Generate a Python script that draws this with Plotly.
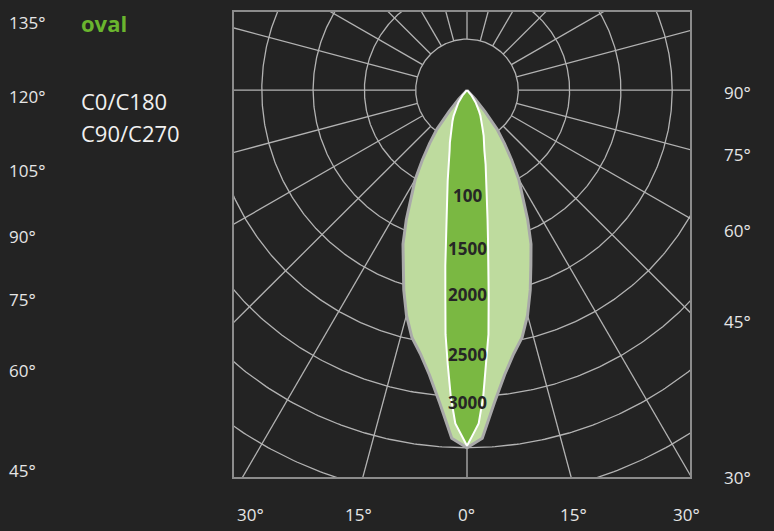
import numpy as np
import plotly.graph_objects as go

# ---------------- data ----------------
# C0/C180 plane (light green), angle from nadir (deg) and intensity (cd)
angles_c0 = [0, 2.5, 5, 7.5, 10, 12.5, 15, 17.5, 20, 22.5, 25, 27.5, 30, 32.5, 35, 37.5, 40, 42.5, 45]
intensity_c0 = [3500, 3410, 3070, 2810, 2620, 2480, 2280, 2050, 1820, 1630, 1400, 1180, 1010, 810, 635, 480, 270, 117, 0]

# C90/C270 plane (dark green)
angles_c90 = [0, 1, 2, 3, 4, 5, 6, 7, 8, 9, 10, 12, 14, 16, 18, 20, 22.5, 25, 27.5, 30, 35, 40, 45]
intensity_c90 = [3480, 3370, 3265, 3010, 2690, 2400, 2020, 1735, 1470, 1280, 1120, 905, 750, 615, 540, 475, 390, 335, 283, 230, 146, 70, 0]

grid_radii = [500, 1000, 1500, 2000, 2500, 3000, 3500, 4000, 4500, 5000]
spoke_angles = list(range(0, 360, 15))

ring_labels = ["100", "1500", "2000", "2500", "3000"]
ring_label_r = [1030, 1550, 2000, 2590, 3060]

left_tick_labels = ["135°", "120°", "105°", "90°", "75°", "60°", "45°"]
right_tick_labels = ["90°", "75°", "60°", "45°", "30°"]
bottom_tick_labels = ["30°", "15°", "0°", "15°", "30°"]

title_text = "oval"
legend_texts = ["C0/C180", "C90/C270"]

# ---------------- layout constants ----------------
W, H = 774, 531
BOX_L, BOX_R, BOX_T, BOX_B = 234, 690, 10, 477
CX, CY = 467, 88.5
CD_PER_PX = 500 / 51.3
BG = "#232323"
GRID = "#b3b3b3"
FONT = "Open Sans, Noto Sans, DejaVu Sans, sans-serif"

def px_x(p):
    return (p - BOX_L) / (BOX_R - BOX_L)

def px_y(p):
    return (BOX_B - p) / (BOX_B - BOX_T)

def lobe(angles, vals):
    a = np.radians(np.array(angles, dtype=float))
    v = np.array(vals, dtype=float)
    th = np.concatenate([-a[::-1], a[1:]])
    r = np.concatenate([v[::-1], v[1:]])
    return r * np.sin(th), -r * np.cos(th)

fig = go.Figure()

# grid circles
t = np.linspace(0, 2 * np.pi, 721)
for rr in grid_radii:
    fig.add_trace(go.Scatter(x=rr * np.sin(t), y=rr * np.cos(t), mode="lines",
                             line=dict(color=GRID, width=1.3), hoverinfo="skip", showlegend=False))
# spokes
for ang in spoke_angles:
    a = np.radians(ang)
    r0, r1 = grid_radii[0], 8000
    fig.add_trace(go.Scatter(x=[r0 * np.sin(a), r1 * np.sin(a)], y=[-r0 * np.cos(a), -r1 * np.cos(a)],
                             mode="lines", line=dict(color=GRID, width=1.3),
                             hoverinfo="skip", showlegend=False))

# light lobe
x0, y0 = lobe(angles_c0, intensity_c0)
fig.add_trace(go.Scatter(x=x0, y=y0, mode="lines", fill="toself", fillcolor="#bedb9e",
                         line=dict(color="#a9a9a9", width=3), name="C0/C180", showlegend=False))
# dark lobe
x1, y1 = lobe(angles_c90, intensity_c90)
fig.add_trace(go.Scatter(x=x1, y=y1, mode="lines", fill="toself", fillcolor="#7ab842",
                         line=dict(color="#ffffff", width=2), name="C90/C270", showlegend=False))

annotations = []
for txt, rr in zip(ring_labels, ring_label_r):
    annotations.append(dict(x=0, y=-rr, xref="x", yref="y", text="<b>" + txt + "</b>", showarrow=False,
                            font=dict(family=FONT, size=17, color="#262626")))

left_y = [21, 95, 169, 235, 299, 370, 470]
for txt, yy in zip(left_tick_labels, left_y):
    annotations.append(dict(x=px_x(7), y=px_y(yy), xref="paper", yref="paper", text=txt,
                            showarrow=False, xanchor="left", yanchor="middle",
                            font=dict(family=FONT, size=17, color="#e6e6e6")))
right_y = [91, 153, 229, 321, 478]
for txt, yy in zip(right_tick_labels, right_y):
    annotations.append(dict(x=px_x(722), y=px_y(yy), xref="paper", yref="paper", text=txt,
                            showarrow=False, xanchor="left", yanchor="middle",
                            font=dict(family=FONT, size=17, color="#e6e6e6")))
bottom_x = [250, 358, 466, 573, 686]
for txt, xx in zip(bottom_tick_labels, bottom_x):
    annotations.append(dict(x=px_x(xx), y=px_y(515), xref="paper", yref="paper", text=txt,
                            showarrow=False, xanchor="center", yanchor="middle",
                            font=dict(family=FONT, size=17, color="#e6e6e6")))

annotations.append(dict(x=px_x(79), y=px_y(21), xref="paper", yref="paper", text="<b>" + title_text + "</b>",
                        showarrow=False, xanchor="left", yanchor="middle",
                        font=dict(family=FONT, size=22, color="#6ab52e")))
for txt, yy in zip(legend_texts, [99, 132]):
    annotations.append(dict(x=px_x(79), y=px_y(yy), xref="paper", yref="paper", text=txt,
                            showarrow=False, xanchor="left", yanchor="middle",
                            font=dict(family=FONT, size=22, color="#f0f0f0")))

xr = [(BOX_L - CX) * CD_PER_PX, (BOX_R - CX) * CD_PER_PX]
yr = [-(BOX_B - CY) * CD_PER_PX, (CY - BOX_T) * CD_PER_PX]

fig.update_layout(
    width=W, height=H,
    margin=dict(l=BOX_L, r=W - BOX_R, t=BOX_T, b=H - BOX_B),
    paper_bgcolor=BG, plot_bgcolor=BG,
    xaxis=dict(range=xr, showgrid=False, zeroline=False, showticklabels=False, ticks="",
               showline=True, mirror=True, linecolor="#8c8c8c", linewidth=2, fixedrange=True),
    yaxis=dict(range=yr, showgrid=False, zeroline=False, showticklabels=False, ticks="",
               showline=True, mirror=True, linecolor="#8c8c8c", linewidth=2, fixedrange=True),
    annotations=annotations,
    showlegend=False,
)

fig.write_html("out.html", config={"displayModeBar": False},
               post_script="document.body.style.margin='0px';document.body.style.background='" + BG + "';")
